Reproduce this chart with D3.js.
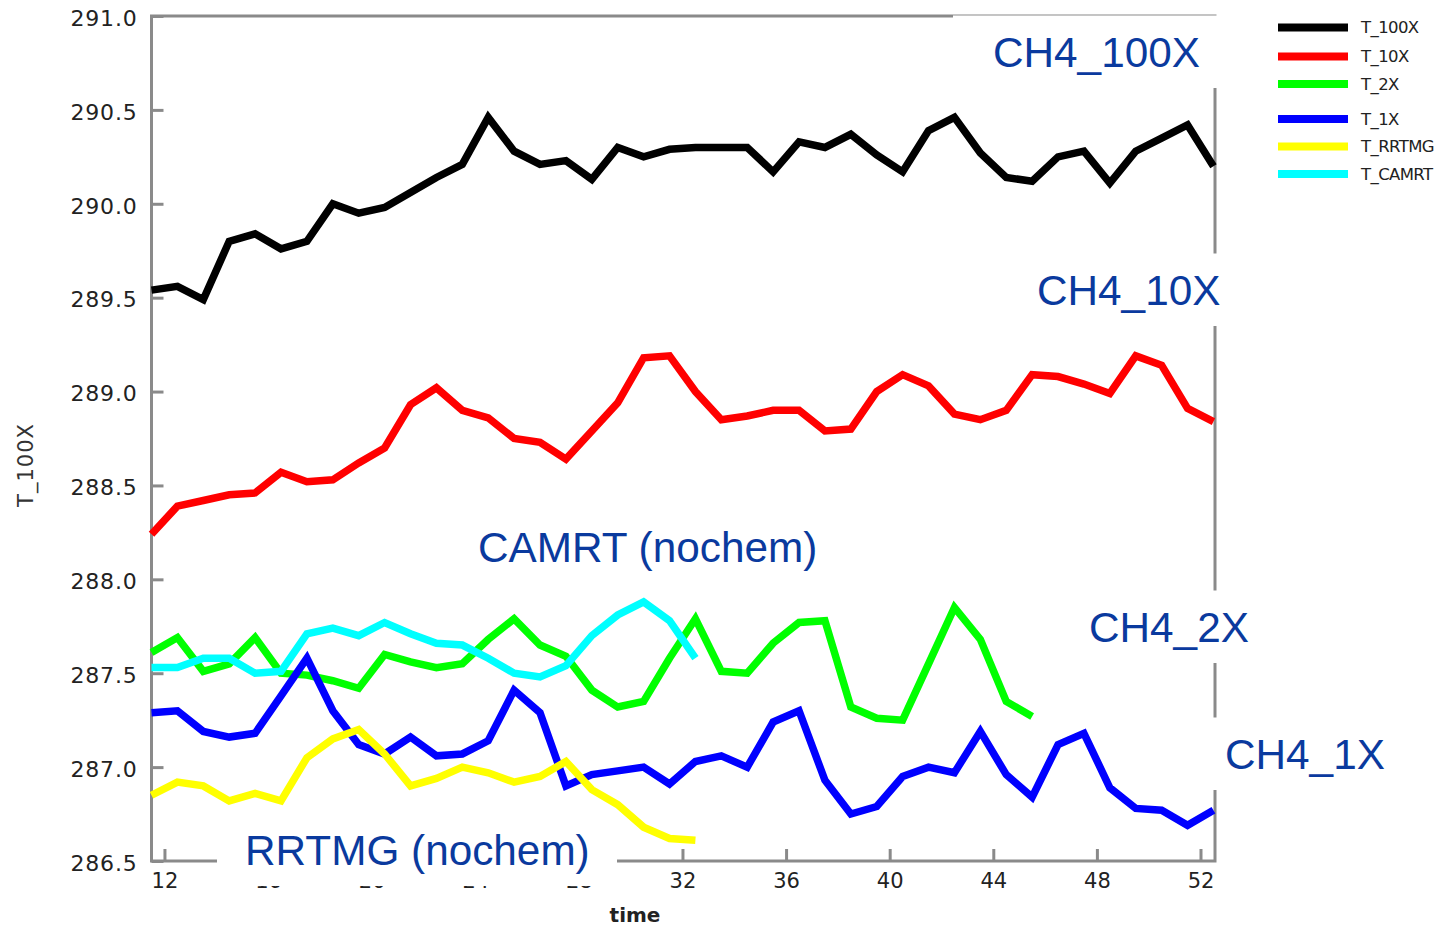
<!DOCTYPE html>
<html>
<head>
<meta charset="utf-8">
<script src="https://cdn.jsdelivr.net/npm/d3@7"></script>
<style>
  html, body { margin: 0; padding: 0; background: #fff; }
  svg { display: block; }
</style>
</head>
<body>
<svg id="chart" width="1449" height="927"></svg>
<script>
// Model time axis (one sample per unit of time)
const times = [11.5, 12.5, 13.5, 14.5, 15.5, 16.5, 17.5, 18.5, 19.5, 20.5,
               21.5, 22.5, 23.5, 24.5, 25.5, 26.5, 27.5, 28.5, 29.5, 30.5,
               31.5, 32.5, 33.5, 34.5, 35.5, 36.5, 37.5, 38.5, 39.5, 40.5,
               41.5, 42.5, 43.5, 44.5, 45.5, 46.5, 47.5, 48.5, 49.5, 50.5,
               51.5, 52.5];

// Temperature series (K)
const T_100X = [289.54, 289.56, 289.49, 289.80, 289.84, 289.76, 289.80, 290.00, 289.95, 289.98,
                290.06, 290.14, 290.21, 290.46, 290.28, 290.21, 290.23, 290.13, 290.30, 290.25,
                290.29, 290.30, 290.30, 290.30, 290.17, 290.33, 290.30, 290.37, 290.26, 290.17,
                290.39, 290.46, 290.27, 290.14, 290.12, 290.25, 290.28, 290.11, 290.28, 290.35,
                290.42, 290.20];
const T_10X  = [288.24, 288.39, 288.42, 288.45, 288.46, 288.57, 288.52, 288.53, 288.62, 288.70,
                288.93, 289.02, 288.90, 288.86, 288.75, 288.73, 288.64, 288.79, 288.94, 289.18,
                289.19, 289.00, 288.85, 288.87, 288.90, 288.90, 288.79, 288.80, 289.00, 289.09,
                289.03, 288.88, 288.85, 288.90, 289.09, 289.08, 289.04, 288.99, 289.19, 289.14,
                288.91, 288.84];
const T_2X   = [287.61, 287.69, 287.51, 287.55, 287.69, 287.50, 287.49, 287.46, 287.42, 287.60,
                287.56, 287.53, 287.55, 287.68, 287.79, 287.65, 287.59, 287.41, 287.32, 287.35,
                287.58, 287.79, 287.51, 287.50, 287.66, 287.77, 287.78, 287.32, 287.26, 287.25,
                287.55, 287.85, 287.68, 287.35, 287.27];
const T_1X   = [287.29, 287.30, 287.19, 287.16, 287.18, 287.38, 287.58, 287.30, 287.12, 287.07,
                287.16, 287.06, 287.07, 287.14, 287.41, 287.29, 286.90, 286.96, 286.98, 287.00,
                286.91, 287.03, 287.06, 287.00, 287.24, 287.30, 286.93, 286.75, 286.79, 286.95,
                287.00, 286.97, 287.19, 286.96, 286.84, 287.12, 287.18, 286.89, 286.78, 286.77,
                286.69, 286.77];
const T_RRTMG = [286.85, 286.92, 286.90, 286.82, 286.86, 286.82, 287.05, 287.15, 287.20, 287.07,
                 286.90, 286.94, 287.00, 286.97, 286.92, 286.95, 287.03, 286.88, 286.80, 286.68,
                 286.62, 286.61];
const T_CAMRT = [287.53, 287.53, 287.58, 287.58, 287.50, 287.51, 287.71, 287.74, 287.70, 287.77,
                 287.71, 287.66, 287.65, 287.58, 287.50, 287.48, 287.54, 287.70, 287.81, 287.88,
                 287.78, 287.58];

const seriesNames = ["T_100X", "T_10X", "T_2X", "T_1X", "T_RRTMG", "T_CAMRT"];
const seriesValues = [T_100X, T_10X, T_2X, T_1X, T_RRTMG, T_CAMRT];
const seriesColors = ["#000000", "#ff0000", "#00ff00", "#0000ff", "#ffff00", "#00ffff"];

const timeTicks = [12, 16, 20, 24, 28, 32, 36, 40, 44, 48, 52];
const tempTicks = [286.5, 287.0, 287.5, 288.0, 288.5, 289.0, 289.5, 290.0, 290.5, 291.0];

// Text annotations naming each experiment (white-backed text boxes)
const noteTexts = ["CH4_100X", "CH4_10X", "CH4_2X", "CH4_1X", "CAMRT (nochem)", "RRTMG (nochem)"];

// ---------------------------------------------------------------------------
const svg = d3.select("#chart");
const plot = { left: 151.5, right: 1215, top: 16, bottom: 861 };

const x = d3.scaleLinear().domain([11.5, 52.56]).range([plot.left, plot.right]);
const y = d3.scaleLinear().domain([286.5, 291.0]).range([plot.bottom, plot.top]);

const axisColor = "#8a8a8a";
const tickFont = "'DejaVu Sans', sans-serif";

// Frame
svg.append("rect")
  .attr("x", plot.left).attr("y", plot.top)
  .attr("width", plot.right - plot.left).attr("height", plot.bottom - plot.top)
  .attr("fill", "none").attr("stroke", axisColor).attr("stroke-width", 3);

// Bottom axis, ticks pointing inward
const gx = svg.append("g")
  .attr("transform", `translate(0,${plot.bottom})`)
  .call(d3.axisBottom(x).tickValues(timeTicks).tickSize(-12).tickPadding(12).tickFormat(d3.format("d")));
gx.select(".domain").remove();
gx.selectAll(".tick line").attr("stroke", axisColor).attr("stroke-width", 3);
gx.selectAll(".tick text")
  .attr("fill", "#222").attr("font-family", tickFont).attr("font-size", 21);

// Left axis, ticks pointing inward
const gy = svg.append("g")
  .attr("transform", `translate(${plot.left},0)`)
  .call(d3.axisLeft(y).tickValues(tempTicks).tickSize(-12).tickPadding(14).tickFormat(d3.format(".1f")));
gy.select(".domain").remove();
gy.selectAll(".tick line").attr("stroke", axisColor).attr("stroke-width", 3);
gy.selectAll(".tick text")
  .attr("fill", "#222").attr("font-family", tickFont).attr("font-size", 22)
  .attr("letter-spacing", 0.8).attr("dy", "0.42em");

// Axis titles
svg.append("text")
  .attr("transform", "translate(33,465) rotate(-90)")
  .attr("text-anchor", "middle")
  .attr("font-family", tickFont).attr("font-size", 21).attr("letter-spacing", 1)
  .attr("fill", "#333")
  .text("T_100X");

svg.append("text")
  .attr("x", 635).attr("y", 922)
  .attr("text-anchor", "middle")
  .attr("font-family", tickFont).attr("font-size", 20).attr("font-weight", "bold")
  .attr("fill", "#222")
  .text("time");

// Series lines
const line = d3.line()
  .x((d, i) => x(times[i]))
  .y(d => y(d));

const lines = svg.append("g").attr("class", "series");
seriesValues.forEach((vals, k) => {
  lines.append("path")
    .datum(vals)
    .attr("d", line)
    .attr("fill", "none")
    .attr("stroke", seriesColors[k])
    .attr("stroke-width", 7.5)
    .attr("stroke-linejoin", "miter");
});

// Legend
const legend = svg.append("g").attr("class", "legend");
const legendRows = [27.5, 56.5, 84, 119, 146.5, 174];
seriesNames.forEach((name, k) => {
  const ly = legendRows[k];
  legend.append("line")
    .attr("x1", 1278).attr("x2", 1348).attr("y1", ly).attr("y2", ly)
    .attr("stroke", seriesColors[k]).attr("stroke-width", 8);
  legend.append("text")
    .attr("x", 1361).attr("y", ly).attr("dy", "0.36em")
    .attr("font-family", tickFont).attr("font-size", 16.5).attr("letter-spacing", -0.6)
    .attr("fill", "#222")
    .text(name);
});

// Annotation boxes and texts
const noteLayout = [
  { box: [953, 1242], tx: 993,  base: 67 },
  { box: [1010, 1245], tx: 1037, base: 305 },
  { box: [1062, 1275], tx: 1089, base: 642 },
  { box: [1198, 1410], tx: 1225, base: 769 },
  { box: [450, 845],  tx: 478,  base: 562 },
  { box: [217, 617],  tx: 245,  base: 865 }
];
const notes = svg.append("g").attr("class", "notes");
noteTexts.forEach((t, k) => {
  const L = noteLayout[k];
  notes.append("rect")
    .attr("x", L.box[0]).attr("y", L.base - 51.5)
    .attr("width", L.box[1] - L.box[0]).attr("height", 72.5)
    .attr("fill", "#fff");
  notes.append("text")
    .attr("x", L.tx).attr("y", L.base)
    .attr("font-family", "'Liberation Sans', Arial, sans-serif")
    .attr("font-size", 42.3)
    .attr("fill", "#0a3a9e")
    .text(t);
});
</script>
</body>
</html>
